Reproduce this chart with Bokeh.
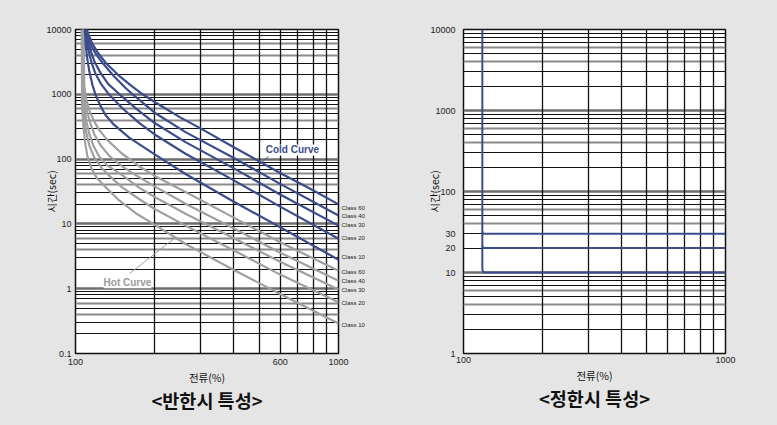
import math
from bokeh.plotting import figure
from bokeh.layouts import row
from bokeh.models import (Range1d, FixedTicker, Grid, Label, LogAxis, Title,
                          CustomJSTickFormatter)
from bokeh.embed import file_html
from bokeh.resources import INLINE

# ---------------- data ----------------
# <반한시 특성> : inverse-time curves, current (%) -> time (sec)
cold_60_i = [110.5, 112.5, 116, 122, 130, 145, 165, 180, 200, 250, 300, 400, 600, 800, 1000]
cold_60_t = [10000, 8000, 6000, 4300, 3100, 2000, 1300, 1000, 760, 440, 295, 152, 61, 33, 20]
cold_40_i = [110, 111.5, 115, 120, 128, 140, 155, 165, 200, 262, 400, 600, 1000]
cold_40_t = [10000, 7500, 5500, 4100, 2900, 1900, 1250, 1000, 520, 261, 104, 41.5, 13.5]
cold_30_i = [109.5, 111, 114, 118, 124, 133, 147, 170, 200, 262, 400, 600, 1000]
cold_30_t = [10000, 7000, 4800, 3200, 2200, 1450, 1000, 600, 360, 183, 72, 28.5, 9.4]
cold_20_i = [109, 110, 112, 115, 119, 125, 134, 150, 175, 200, 262, 400, 600, 1000]
cold_20_t = [10000, 7000, 4800, 3100, 2100, 1450, 1000, 620, 360, 240, 121, 47, 18.5, 5.9]
cold_10_i = [108.5, 109.5, 111, 113, 116, 119, 124, 130, 140, 160, 200, 262, 400, 600, 1000]
cold_10_t = [10000, 5500, 3400, 2200, 1400, 1000, 680, 480, 340, 215, 118, 59, 22, 8.9, 2.8]

hot_60_i = [107.5, 108, 110, 113, 117, 123, 132, 150, 175, 200, 262, 400, 600, 1000]
hot_60_t = [10000, 1250, 825, 566, 400, 282, 198, 122, 77, 55, 31, 12.5, 5.2, 1.9]
hot_40_i = [107, 107.5, 109, 111, 114, 118, 125, 135, 150, 170, 200, 262, 400, 600, 1000]
hot_40_t = [10000, 1500, 800, 520, 350, 240, 160, 110, 78, 56, 38, 20.5, 8.5, 3.6, 1.33]
hot_30_i = [106.5, 107, 108.5, 110, 113, 117, 123, 132, 151, 175, 200, 262, 400, 600, 1000]
hot_30_t = [10000, 1100, 560, 380, 240, 160, 110, 80, 56, 36, 26, 14.3, 6, 2.6, 0.97]
hot_20_i = [106, 106.5, 108, 110, 113, 118, 125, 134, 150, 175, 200, 262, 400, 600, 1000]
hot_20_t = [10000, 800, 400, 250, 160, 105, 75, 56, 37, 24, 17, 9.4, 3.9, 1.65, 0.62]
hot_10_i = [105.5, 106, 107.5, 109, 111, 115, 121, 130, 145, 170, 202, 262, 400, 600, 1000]
hot_10_t = [10000, 600, 280, 170, 110, 72, 50, 37, 24, 14.5, 9.5, 4.9, 1.95, 0.83, 0.29]

class_names = ["Class 60", "Class 40", "Class 30", "Class 20", "Class 10"]
cold_label_t = [17.7, 13.2, 9.7, 6.1, 3.1]
hot_label_t = [1.84, 1.33, 0.97, 0.61, 0.28]

# <정한시 특성> : definite-time curves
def10_i = [118, 118, 118.6, 120, 1000]
def10_t = [10000, 11, 10.3, 10, 10]
def30_i = [118, 119, 1000]
def30_t = [32, 30, 30]
def20_i = [118, 119, 1000]
def20_t = [21.2, 20, 20]

left_xticks = [100, 600, 1000]
left_yticks = [0.1, 1, 10, 100, 1000, 10000]
right_xticks = [100, 1000]
right_yticks = [1, 10, 20, 30, 100, 1000, 10000]
vgrid_ticks = [200, 300, 400, 500, 600, 700, 800, 900]

# ---------------- styles ----------------
BG = "#e5e5e5"
BLUE = "#3b4c8c"
GRAYC = "#a0a0a0"
FONT = "Liberation Sans"
KFONT = "Noto Sans CJK KR"


def make_fig(width, ymin, ymax, bl, br, bt, bb, xticks, yticks, ystand, xstand, ylab_stand):
    p = figure(width=width, height=425, x_axis_type="log", y_axis_type="log",
               x_range=Range1d(100, 1000), y_range=Range1d(ymin, ymax),
               toolbar_location=None, output_backend="svg",
               min_border_left=bl, min_border_right=br,
               min_border_top=bt, min_border_bottom=bb,
               background_fill_color="white", border_fill_color=BG,
               outline_line_color="#111111", outline_line_width=1.5)
    p.xgrid.visible = False
    p.ygrid.visible = False
    exps = list(range(round(math.log10(ymin)), round(math.log10(ymax))))
    for k in range(1, 10):
        ticks = [k * 10.0 ** n for n in exps]
        if k == 1:
            ticks = ticks + [ymax]
            col, w = "#6e6e6e", 2.4
        elif k in (4, 6):
            col, w = "#8a8a8a", 1.8
        else:
            col, w = "#111111", 1.1
        p.add_layout(Grid(dimension=1, ticker=FixedTicker(ticks=ticks),
                          grid_line_color=col, grid_line_width=w))
    p.add_layout(Grid(dimension=0, ticker=FixedTicker(ticks=vgrid_ticks),
                      grid_line_color="#111111", grid_line_width=1.3))
    for ax in (p.xaxis[0], p.yaxis[0]):
        ax.major_tick_line_color = None
        ax.minor_tick_line_color = None
        ax.major_tick_out = 0
        ax.major_tick_in = 0
        ax.minor_tick_out = 0
        ax.minor_tick_in = 0
        ax.axis_line_color = None
        ax.major_label_text_font = FONT
        ax.major_label_text_font_size = "9px"
        ax.major_label_text_color = "#222222"
        ax.formatter = CustomJSTickFormatter(code="return String(tick);")
        ax.axis_label_text_font = KFONT
        ax.axis_label_text_font_style = "normal"
        ax.axis_label_text_font_size = "10.5px"
        ax.axis_label_text_color = "#111111"
    p.xaxis.ticker = FixedTicker(ticks=xticks)
    p.yaxis.ticker = FixedTicker(ticks=yticks)
    p.yaxis.major_label_standoff = ystand
    p.xaxis.major_label_standoff = xstand
    p.xaxis.axis_label = "전류(%)"
    p.yaxis.axis_label = "시간(sec)"
    p.xaxis.axis_label_standoff = 2
    p.yaxis.axis_label_standoff = ylab_stand
    return p


def add_title(p, text):
    p.add_layout(Title(text=text, align="center", text_font=KFONT, text_font_size="18.5px",
                       text_font_style="bold", text_color="#111111", standoff=-5), "below")


# ---------------- left chart ----------------
p1 = make_fig(395, 0.1, 10000, 75, 57, 29, 72, left_xticks, left_yticks, 4, 5, -16)

for xi, ti in [(hot_60_i, hot_60_t), (hot_40_i, hot_40_t), (hot_30_i, hot_30_t),
               (hot_20_i, hot_20_t), (hot_10_i, hot_10_t)]:
    p1.line(xi, ti, line_color=GRAYC, line_width=2.2, line_join="round")
for xi, ti in [(cold_60_i, cold_60_t), (cold_40_i, cold_40_t), (cold_30_i, cold_30_t),
               (cold_20_i, cold_20_t), (cold_10_i, cold_10_t)]:
    p1.line(xi, ti, line_color=BLUE, line_width=2.2, line_join="round")

# class names as a right-hand axis
lab_vals = cold_label_t + hot_label_t
lab_names = class_names + class_names
class_axis = LogAxis(ticker=FixedTicker(ticks=lab_vals),
                     formatter=CustomJSTickFormatter(args=dict(vals=lab_vals, names=lab_names), code="""
                        let b = 0;
                        for (let i = 0; i < vals.length; i++) {
                            if (Math.abs(Math.log(vals[i]) - Math.log(tick)) < Math.abs(Math.log(vals[b]) - Math.log(tick))) b = i;
                        }
                        return names[b];"""),
                     major_tick_line_color=None, minor_tick_line_color=None, axis_line_color=None,
                     major_tick_out=0, major_tick_in=0, minor_tick_out=0, minor_tick_in=0,
                     major_label_standoff=3, major_label_text_font=FONT,
                     major_label_text_font_size="6px", major_label_text_color="#222222")
p1.add_layout(class_axis, "right")

# annotations
cold_leader = ([500.9], [82.8], [541.8], [110])
hot_leader = ([160.4], [1.71], [240], [6.17])
p1.segment(x0=cold_leader[0], y0=cold_leader[1], x1=cold_leader[2], y1=cold_leader[3],
           line_color=BLUE, line_width=1)
p1.segment(x0=hot_leader[0], y0=hot_leader[1], x1=hot_leader[2], y1=hot_leader[3],
           line_color=GRAYC, line_width=1)
p1.add_layout(Label(x=668, y=138.7, text="Cold Curve", text_font=FONT, text_font_size="10px",
                    text_font_style="bold", text_color=BLUE, text_align="center",
                    text_baseline="middle", background_fill_color="white"))
p1.add_layout(Label(x=157.6, y=1.24, text="Hot Curve", text_font=FONT, text_font_size="10px",
                    text_font_style="bold", text_color="#9a9a9a", text_align="center",
                    text_baseline="middle", background_fill_color="white"))
add_title(p1, "<반한시 특성>")

# ---------------- right chart ----------------
p2 = make_fig(382, 1, 10000, 68, 52, 29, 68, right_xticks, right_yticks, 8, 3, -15)
p2.line(def10_i, def10_t, line_color=BLUE, line_width=2, line_join="round")
p2.line(def30_i, def30_t, line_color=BLUE, line_width=2, line_join="round")
p2.line(def20_i, def20_t, line_color=BLUE, line_width=2, line_join="round")
add_title(p2, "<정한시 특성>")

layout = row(p1, p2, spacing=0)
html = file_html(layout, INLINE)
html = html.replace("</head>",
                    "<style>html,body{margin:0;padding:0;background:#e5e5e5;}</style></head>", 1)
open("out.html", "w").write(html)
